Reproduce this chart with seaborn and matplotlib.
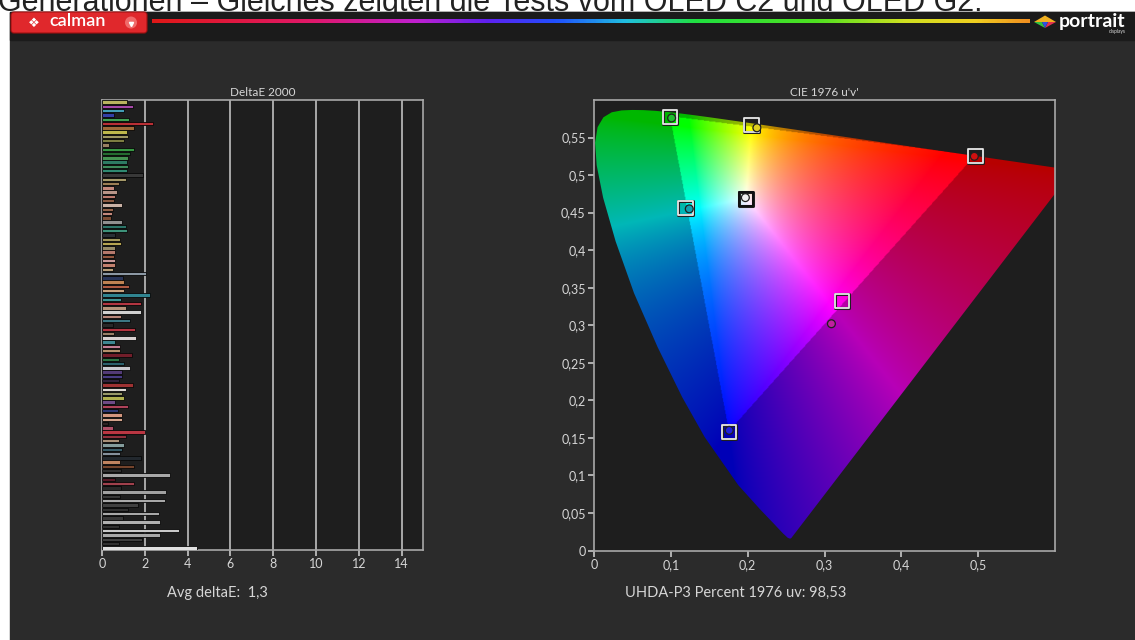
import numpy as np
import pandas as pd
import matplotlib
matplotlib.use("Agg")
import matplotlib.pyplot as plt
import seaborn as sns
from matplotlib.patches import Polygon, Rectangle, FancyBboxPatch, Circle
from matplotlib.path import Path
from matplotlib.colors import LinearSegmentedColormap

# ---------------- data ----------------
# DeltaE 2000 per measured patch (top to bottom)
delta_e = [
    1.15, 1.45, 1.05, 0.55, 1.25, 2.40, 1.50, 1.15, 1.20, 1.05,
    0.35, 1.50, 1.30, 1.20, 1.15, 1.20, 1.15, 1.90, 1.10, 0.80,
    0.55, 0.70, 0.60, 0.55, 0.95, 0.50, 0.45, 0.40, 0.95, 1.10,
    1.15, 0.60, 0.85, 0.90, 0.60, 0.60, 0.55, 0.60, 0.60, 0.50,
    2.05, 1.00, 1.05, 1.25, 1.05, 2.25, 0.90, 1.80, 1.10, 1.80,
    0.90, 1.30, 0.50, 1.55, 0.55, 1.60, 0.60, 0.85, 0.85, 1.40,
    0.80, 1.05, 1.30, 0.95, 0.95, 0.80, 1.45, 1.10, 0.95, 1.05,
    0.60, 1.20, 0.75, 0.95, 0.95, 0.30, 0.50, 2.00, 1.10, 0.80,
    1.05, 0.95, 0.85, 1.80, 0.85, 1.50, 0.90, 3.20, 0.60, 1.50,
    0.90, 3.00, 0.85, 2.95, 1.70, 1.20, 2.65, 1.00, 2.70, 0.80,
    3.60, 2.70, 1.85, 0.80, 4.45,
]
patch_colors = [
    "#c8c050", "#b438b8", "#30a8c8", "#2030b8", "#30b048", "#d01820", "#b06828", "#d0c838", "#a8a058", "#888838",
    "#a08058", "#28a838", "#187828", "#38a048", "#208868", "#309858", "#209878", "#383838", "#b0a060", "#a88048",
    "#d08070", "#c09080", "#c87060", "#985838", "#d0b0a0", "#a06040", "#d08070", "#884828", "#909090", "#208070",
    "#30a080", "#283038", "#b0a050", "#c8b040", "#a09060", "#c07060", "#a05030", "#d09090", "#d07860", "#c0a070",
    "#8898a8", "#203060", "#d08040", "#c05030", "#d0a070", "#2090a0", "#30a0a0", "#c82030", "#c09070", "#d0d0d0",
    "#c08070", "#308090", "#282828", "#c82030", "#a08060", "#d8d0d0", "#3090a0", "#d07090", "#c09060", "#801020",
    "#208040", "#206878", "#c8c8d0", "#503080", "#403090", "#302040", "#b02020", "#e0d8d0", "#a0a060", "#c0c040",
    "#704090", "#c03050", "#203080", "#e09070", "#e0a080", "#302020", "#c04060", "#d02030", "#a02030", "#b09070",
    "#80a0a0", "#306070", "#8090a0", "#202830", "#d08050", "#804020", "#303030", "#a8a8a8", "#601020", "#b03040",
    "#282828", "#a0a0a0", "#383838", "#a8a8a8", "#404040", "#303030", "#a8a8a8", "#383838", "#b0b0b0", "#303030",
    "#c8c8c8", "#a8a8a8", "#404040", "#303030", "#e0e0e0",
]
avg_delta_e = "1,3"
gamut_coverage = "98,53"

# CIE 1931 spectral locus (nm, x, y)
locus_nm = [380, 400, 410, 420, 430, 440, 450, 460, 470, 475, 480, 485, 490, 495,
            500, 505, 510, 515, 520, 525, 530, 535, 540, 545, 550, 555, 560, 570,
            580, 590, 600, 610, 620, 630, 640, 660, 680, 700]
locus_x = [0.1741, 0.1733, 0.1726, 0.1714, 0.1689, 0.1644, 0.1566, 0.1440, 0.1241, 0.1096,
           0.0913, 0.0687, 0.0454, 0.0235, 0.0082, 0.0039, 0.0139, 0.0389, 0.0743, 0.1142,
           0.1547, 0.1929, 0.2296, 0.2658, 0.3016, 0.3373, 0.3731, 0.4441, 0.5125, 0.5752,
           0.6270, 0.6658, 0.6915, 0.7079, 0.7190, 0.7300, 0.7334, 0.7347]
locus_y = [0.0050, 0.0048, 0.0048, 0.0051, 0.0069, 0.0109, 0.0177, 0.0297, 0.0578, 0.0868,
           0.1327, 0.2007, 0.2950, 0.4127, 0.5384, 0.6548, 0.7502, 0.8120, 0.8338, 0.8262,
           0.8059, 0.7816, 0.7543, 0.7243, 0.6923, 0.6589, 0.6245, 0.5547, 0.4866, 0.4242,
           0.3725, 0.3340, 0.3083, 0.2920, 0.2809, 0.2700, 0.2666, 0.2653]

# P3 target and measured points in u'v'
point_names = ["Red", "Green", "Blue", "Cyan", "Magenta", "Yellow", "White"]
target_u = [0.4964, 0.0986, 0.1754, 0.1190, 0.3230, 0.2050, 0.1978]
target_v = [0.5256, 0.5777, 0.1579, 0.4560, 0.3320, 0.5670, 0.4683]
measured_u = [0.4950, 0.1010, 0.1760, 0.1240, 0.3090, 0.2120, 0.1970]
measured_v = [0.5250, 0.5760, 0.1600, 0.4550, 0.3020, 0.5630, 0.4700]
measured_colors = ["#d01010", "#20c030", "#2020e0", "#10a0b0", "#c020a0", "#e0d020", "#f0f0f0"]

deltae_ticks = [0, 2, 4, 6, 8, 10, 12, 14]
cie_xticks = [0, 0.1, 0.2, 0.3, 0.4, 0.5]
cie_yticks = [0, 0.05, 0.1, 0.15, 0.2, 0.25, 0.3, 0.35, 0.4, 0.45, 0.5, 0.55]

# ---------------- style ----------------
sns.set_theme(style="dark")
plt.rcParams["font.family"] = ["Lato", "DejaVu Sans"]
PANEL = "#2b2b2b"
PLOTBG = "#1e1e1e"
TXT = "#d6d6d6"
EDGE = "#a8a8a8"

fig = plt.figure(figsize=(11.35, 6.4), dpi=100, facecolor="white")

# application frame drawn in pixel units
bg = fig.add_axes([0, 0, 1, 1])
bg.set_xlim(0, 1135)
bg.set_ylim(640, 0)
bg.axis("off")
header = bg.text(-2, 11, "Generationen – Gleiches zeigten die Tests vom OLED C2 und OLED G2.",
                 fontsize=22, family=["Liberation Sans", "DejaVu Sans"], color="#222222",
                 va="baseline", ha="left", zorder=0)
header_clip = Rectangle((0, 0), 1135, 12, transform=bg.transData, fc="none", ec="none")
header.set_clip_path(header_clip)
bg.add_patch(Rectangle((10, 12), 1125, 628, color=PANEL, zorder=1))
bg.add_patch(Rectangle((10, 12), 1125, 28, color="#1b1b1b", zorder=1))

# calman button
bg.add_patch(FancyBboxPatch((11, 12), 136, 21, boxstyle="round,pad=0,rounding_size=3",
                            fc="#e0282c", ec="#a01010", lw=0.8, zorder=2))
bg.text(34, 23, "❖", color="white", fontsize=9.5, family="DejaVu Sans",
        ha="center", va="center", zorder=3)
bg.text(78, 21.5, "calman", color="white", fontsize=13, weight="semibold",
        ha="center", va="center", zorder=3)
bg.add_patch(Circle((131, 22.5), 6, fc="#f06a6a", ec="none", zorder=3))
bg.plot([131], [23.5], marker="v", ms=3, color="white", zorder=4)

# rainbow bar
rainbow = LinearSegmentedColormap.from_list("rb", [
    (0.00, "#e01818"), (0.18, "#e0186a"), (0.30, "#c020d0"), (0.38, "#6020f0"),
    (0.46, "#2050ff"), (0.54, "#20c0e0"), (0.62, "#20e040"), (0.76, "#50e020"),
    (0.86, "#d0e020"), (0.94, "#f0d020"), (1.00, "#f09020")])
bg.imshow(np.linspace(0, 1, 400)[None, :], cmap=rainbow, extent=[152, 1030, 23, 19.5],
          aspect="auto", zorder=2)

# portrait logo
bg.add_patch(Polygon([(1034, 22), (1045, 15.5), (1056, 22)], closed=True, fc="#f0b020", ec="none", zorder=2))
bg.add_patch(Polygon([(1034, 22), (1045, 28), (1042, 22)], closed=True, fc="#30c040", ec="none", zorder=2))
bg.add_patch(Polygon([(1048, 22), (1056, 22), (1045, 28)], closed=True, fc="#e03050", ec="none", zorder=2))
bg.add_patch(Polygon([(1042, 22), (1048, 22), (1045, 28)], closed=True, fc="#3050e0", ec="none", zorder=2))
bg.text(1059, 21, "portrait", color="white", fontsize=14, weight="bold",
        ha="left", va="center", zorder=3)
bg.text(1117, 32, "displays", color="#dddddd", fontsize=3.5, ha="center", va="center", zorder=3)

# ---------------- DeltaE bar chart ----------------
ax1 = fig.add_axes([102 / 1135, (640 - 550) / 640, 321 / 1135, 450 / 640])
ax1.set_facecolor(PLOTBG)
patch_ids = [f"P{i:03d}" for i in range(len(delta_e))]
df_de = pd.DataFrame({"patch": patch_ids, "dE": delta_e})
sns.barplot(data=df_de, x="dE", y="patch", hue="patch",
            palette=dict(zip(patch_ids, patch_colors)), orient="h", legend=False,
            width=0.78, edgecolor="#080808", linewidth=0.6, ax=ax1, zorder=3)
ax1.set_xlim(0, 15)
ax1.set_yticks([])
ax1.set_xticks(deltae_ticks)
ax1.set_xticklabels([str(t) for t in deltae_ticks])
for t in deltae_ticks[1:]:
    ax1.axvline(t, color="#a8a8a8", lw=1.4, zorder=1)
ax1.grid(False)
ax1.set_xlabel("")
ax1.set_ylabel("")
ax1.set_title("DeltaE 2000", color=TXT, fontsize=8.5, pad=3)

# ---------------- CIE 1976 u'v' ----------------
ax2 = fig.add_axes([594 / 1135, (640 - 550.5) / 640, 461 / 1135, 450.5 / 640])
ax2.set_facecolor(PLOTBG)

lx = np.array(locus_x)
ly = np.array(locus_y)
den = -2 * lx + 12 * ly + 3
locus_u = 4 * lx / den
locus_v = 9 * ly / den

n = 600
uu, vv = np.meshgrid(np.linspace(0, 0.6, n), np.linspace(0, 0.6, n))
d = 6 * uu - 16 * vv + 12
cx = 9 * uu / d
cy = np.maximum(4 * vv / d, 1e-4)
XYZ = np.stack([cx / cy, np.ones_like(cx), (1 - cx - cy) / cy], axis=-1)
M = np.array([[3.2406, -1.5372, -0.4986],
              [-0.9689, 1.8758, 0.0415],
              [0.0557, -0.2040, 1.0570]])
rgb = XYZ @ M.T
rgb = np.clip(rgb, 0, None)
rgb = rgb / np.maximum(rgb.max(axis=-1, keepdims=True), 1e-9)
rgb = rgb ** (1 / 1.35)
tri = Path(np.column_stack([target_u[:3], target_v[:3]]))
inside = tri.contains_points(np.column_stack([uu.ravel(), vv.ravel()])).reshape(uu.shape)
rgb[~inside] *= 0.72

img = ax2.imshow(rgb, extent=[0, 0.6, 0, 0.6], origin="lower", aspect="auto",
                 interpolation="bilinear", zorder=0)
horseshoe = Polygon(np.column_stack([locus_u, locus_v]), closed=True,
                    transform=ax2.transData, fc="none", ec="none")
ax2.add_patch(horseshoe)
img.set_clip_path(horseshoe)

# target squares (thin dark halo, then light outline)
sns.scatterplot(x=target_u, y=target_v, marker="s", s=105, color="#101010",
                linewidth=2.2, ax=ax2, zorder=4)
sq_dark = ax2.collections[-1]
sq_dark.set_facecolor("none")
sq_dark.set_edgecolor("#202020")
sns.scatterplot(x=target_u, y=target_v, marker="s", s=105, color="#e8e8e8",
                linewidth=1.3, ax=ax2, zorder=5)
sq_light = ax2.collections[-1]
sq_light.set_facecolor("none")
sq_light.set_edgecolor(["#e8e8e8"] * 6 + ["#101010"])

# measured points
df_m = pd.DataFrame({"name": point_names, "u": measured_u, "v": measured_v})
sns.scatterplot(data=df_m, x="u", y="v", hue="name",
                palette=dict(zip(point_names, measured_colors)), s=32,
                edgecolor="#202020", linewidth=0.9, legend=False, ax=ax2, zorder=6)

ax2.set_xlim(0, 0.6)
ax2.set_ylim(0, 0.6)
ax2.set_xticks(cie_xticks)
ax2.set_xticklabels([f"{t:g}".replace(".", ",") for t in cie_xticks])
ax2.set_yticks(cie_yticks)
ax2.set_yticklabels([f"{t:g}".replace(".", ",") for t in cie_yticks])
ax2.grid(False)
ax2.set_xlabel("")
ax2.set_ylabel("")
ax2.set_title("CIE 1976 u'v'", color=TXT, fontsize=8.5, pad=3)

for ax in (ax1, ax2):
    for sp in ax.spines.values():
        sp.set_visible(True)
        sp.set_color(EDGE)
        sp.set_linewidth(1.2)
    ax.tick_params(axis="both", colors="#c8c8c8", labelcolor=TXT, labelsize=9,
                   length=4, width=1.2, direction="out", pad=2,
                   bottom=True, left=(ax is ax2))

fig.text(217 / 1135, 1 - 593 / 640, f"Avg deltaE:  {avg_delta_e}", color=TXT,
         fontsize=10.5, ha="center", va="center")
fig.text(736 / 1135, 1 - 593 / 640, f"UHDA-P3 Percent 1976 uv: {gamut_coverage}",
         color=TXT, fontsize=10.5, ha="center", va="center")

fig.savefig("out.png", dpi=100, facecolor="white")
